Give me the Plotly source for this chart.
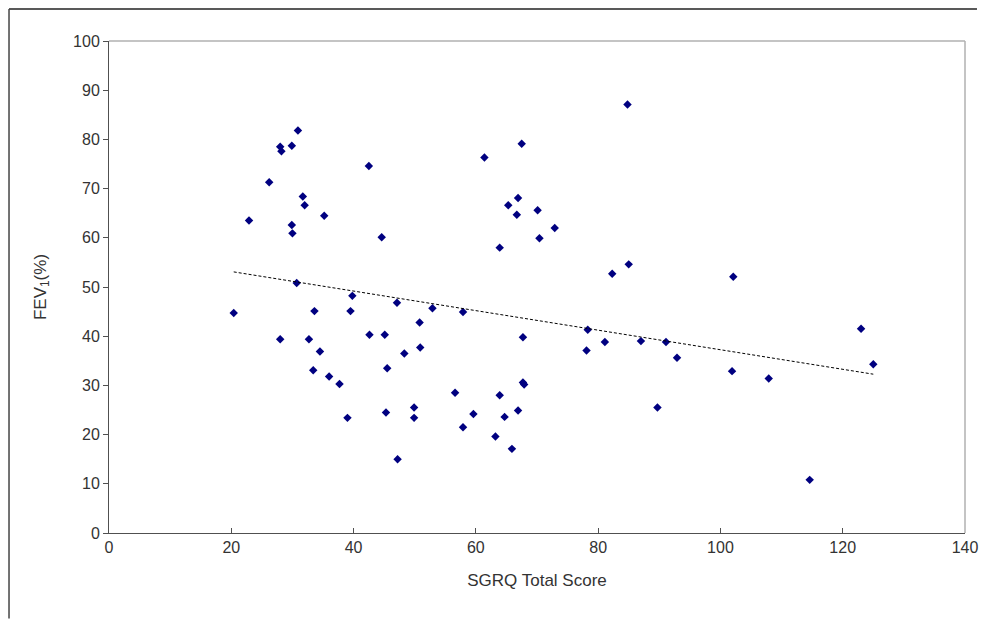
import numpy as np
import plotly.graph_objects as go

sgrq = [20.4, 22.9, 26.2, 28.0, 28.2, 28.0, 29.9, 30.9, 29.9, 30.0,
        30.7, 31.7, 32.0, 32.7, 33.4, 33.6, 34.5, 35.2, 36.0, 37.7,
        39.0, 39.5, 39.8, 42.5, 42.6, 44.6, 45.1, 45.5, 45.3, 47.1,
        47.2, 48.3, 49.9, 49.9, 50.8, 50.9, 52.9, 56.6, 57.9, 57.9,
        59.6, 61.4, 63.2, 63.9, 63.9, 64.7, 65.3, 65.9, 66.7, 66.9,
        66.9, 67.5, 67.7, 67.7, 67.9, 70.1, 70.4, 72.9, 78.3, 78.1,
        81.1, 82.3, 84.8, 85.0, 87.0, 89.7, 91.1, 92.9, 101.9, 102.1,
        107.9, 114.6, 123.0, 125.0]
fev1 = [44.7, 63.5, 71.3, 78.5, 77.6, 39.4, 78.7, 81.8, 62.6, 60.9,
        50.8, 68.4, 66.6, 39.4, 33.1, 45.1, 36.9, 64.5, 31.8, 30.3,
        23.4, 45.1, 48.2, 74.6, 40.3, 60.1, 40.3, 33.5, 24.5, 46.8,
        15.0, 36.5, 25.5, 23.4, 42.8, 37.7, 45.7, 28.5, 44.9, 21.5,
        24.2, 76.3, 19.6, 58.0, 28.0, 23.6, 66.6, 17.1, 64.7, 68.1,
        24.9, 79.1, 39.8, 30.6, 30.2, 65.6, 59.9, 62.0, 41.3, 37.1,
        38.8, 52.7, 87.1, 54.6, 39.0, 25.5, 38.8, 35.6, 32.9, 52.1,
        31.4, 10.8, 41.5, 34.3]

x_ticks = [0, 20, 40, 60, 80, 100, 120, 140]
y_ticks = [0, 10, 20, 30, 40, 50, 60, 70, 80, 90, 100]

# linear trendline (least squares) over the data range
slope, intercept = np.polyfit(sgrq, fev1, 1)
tx = np.array([min(sgrq), max(sgrq)])
ty = slope * tx + intercept

FONT = "Liberation Sans, Arial, sans-serif"
TXT = "#333333"

fig = go.Figure()
fig.add_trace(go.Scatter(
    x=sgrq, y=fev1, mode="markers",
    marker=dict(symbol="diamond", size=6.5, color="#000080", line=dict(width=0)),
    showlegend=False, hoverinfo="x+y"))
fig.add_trace(go.Scatter(
    x=tx, y=ty, mode="lines",
    line=dict(color="black", width=1, dash="3px,2px"),
    showlegend=False, hoverinfo="skip"))

fig.update_layout(
    width=971, height=612,
    margin=dict(l=101, r=14, t=33, b=87),
    paper_bgcolor="white", plot_bgcolor="white",
    font=dict(family=FONT, size=16, color=TXT),
    xaxis=dict(range=[0, 140], tickvals=x_ticks, ticktext=[str(v) for v in x_ticks],
               automargin=False,
               showgrid=False, zeroline=False, showline=True, linecolor="#505050",
               linewidth=1, ticks="inside", ticklen=5, tickcolor="#505050",
               tickfont=dict(family=FONT, size=16, color=TXT),
               title=dict(text="SGRQ Total Score", font=dict(family=FONT, size=17, color=TXT),
                          standoff=18)),
    yaxis=dict(range=[0, 100], tickvals=y_ticks, ticktext=[str(v) for v in y_ticks],
               automargin=False,
               showgrid=False, zeroline=False, showline=True, linecolor="#505050",
               linewidth=1, ticks="outside", ticklen=5, tickcolor="#505050",
               tickfont=dict(family=FONT, size=16, color=TXT),
               title=dict(text="FEV<sub>1</sub>(%)", font=dict(family=FONT, size=17, color=TXT),
                          standoff=22)),
    shapes=[
        # plot-area border (top & right)
        dict(type="line", xref="paper", yref="paper", x0=0, x1=1, y0=1, y1=1,
             line=dict(color="#b0b0b0", width=1.5)),
        dict(type="line", xref="paper", yref="paper", x0=1, x1=1, y0=0, y1=1,
             line=dict(color="#b0b0b0", width=1.5)),
        # outer chart frame (top & left visible), kept inside the figure
        dict(type="line", xref="paper", yref="paper", x0=-0.1168, x1=1.014, y0=1.065, y1=1.065,
             line=dict(color="#222222", width=1.5)),
        dict(type="line", xref="paper", yref="paper", x0=-0.1168, x1=-0.1168, y0=-0.174, y1=1.065,
             line=dict(color="#444444", width=1.5)),
    ],
)

fig.write_html("out.html")
